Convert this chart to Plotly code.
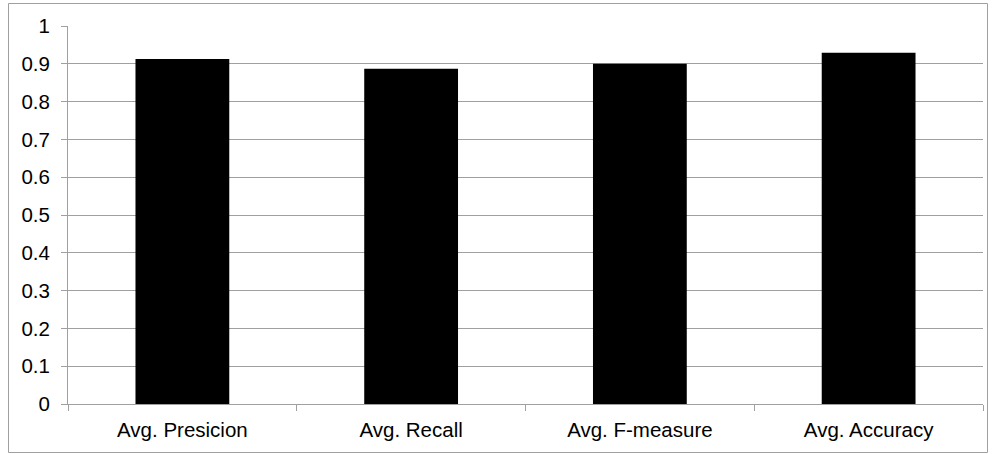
import plotly.graph_objects as go

categories = ["Avg. Presicion", "Avg. Recall", "Avg. F-measure", "Avg. Accuracy"]
values = [0.913, 0.887, 0.900, 0.929]
y_ticks = [0, 0.1, 0.2, 0.3, 0.4, 0.5, 0.6, 0.7, 0.8, 0.9, 1]
y_tick_labels = ["0", "0.1", "0.2", "0.3", "0.4", "0.5", "0.6", "0.7", "0.8", "0.9", "1"]

W, H = 995, 454
ML, MR, MT, MB = 68, 12, 26, 50
PW, PH = W - ML - MR, H - MT - MB

def px_x(p):
    return (p - ML) / PW

def px_y(p):
    return (H - MB - p) / PH

grid = "#a0a0a0"
font = dict(family="Liberation Sans, Arial, sans-serif", size=20.5, color="#000000")

fig = go.Figure()
fig.add_trace(go.Bar(x=categories, y=values, marker=dict(color="#000000", line=dict(width=0)),
                     width=0.41))

fig.update_layout(
    width=W, height=H,
    margin=dict(l=ML, r=MR, t=MT, b=MB, autoexpand=False),
    paper_bgcolor="white", plot_bgcolor="white",
    showlegend=False,
    font=font,
    xaxis=dict(showgrid=False, showline=True, linecolor=grid, linewidth=1,
               ticks="outside", tickson="boundaries", ticklen=6, tickcolor=grid,
               tickfont=font, ticklabelstandoff=7, automargin=False),
    yaxis=dict(range=[0, 1], tickvals=y_ticks, ticktext=y_tick_labels,
               showgrid=True, gridcolor=grid, gridwidth=1,
               showline=True, linecolor=grid, linewidth=1,
               ticks="outside", ticklen=6, tickcolor=grid,
               tickfont=font, zeroline=False, ticklabelstandoff=7, automargin=False),
    shapes=[dict(type="rect", xref="paper", yref="paper",
                 x0=px_x(8.5), x1=px_x(987.5), y0=px_y(452.5), y1=px_y(3.5),
                 line=dict(color=grid, width=1), fillcolor="rgba(0,0,0,0)", layer="below")],
)

fig.write_html("out.html", config={"displayModeBar": False},
               post_script="document.body.style.margin='0';document.body.style.padding='0';")
